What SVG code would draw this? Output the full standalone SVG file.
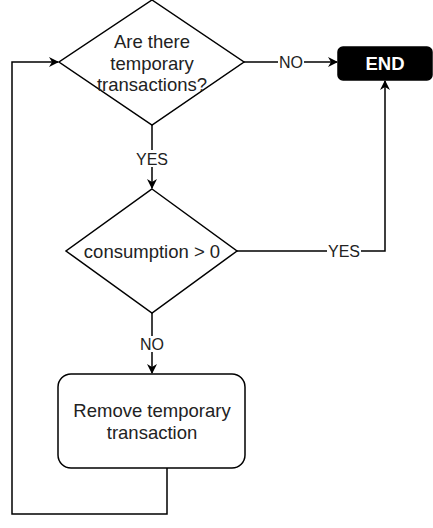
<svg xmlns="http://www.w3.org/2000/svg" width="433" height="528" viewBox="0 0 433 528">
<defs>
<marker id="arr" viewBox="0 0 10 10" refX="9" refY="5" markerWidth="10" markerHeight="10" markerUnits="userSpaceOnUse" orient="auto">
<path d="M0,0 L10,5 L0,10 L3,5 Z" fill="#000"/>
</marker>
<style>
.shape{fill:#fff;stroke:#000;stroke-width:1.5}
.edge{fill:none;stroke:#000;stroke-width:1.5;marker-end:url(#arr)}
.t{font-family:"Liberation Sans",Arial,sans-serif;font-size:18.5px;fill:#222;text-anchor:middle}
.lbl{font-family:"Liberation Sans",Arial,sans-serif;font-size:16px;fill:#222;text-anchor:middle}
.bg{fill:#fff}
</style>
</defs>
<rect width="433" height="528" fill="#fff"/>
<g id="connectors">
<path class="edge" d="M244,62 L337,62"/>
<rect class="bg" x="278" y="54" width="26" height="16"/>
<text class="lbl" x="291" y="68">NO</text>
<path class="edge" d="M152,125 L152,188"/>
<rect class="bg" x="135" y="150" width="34" height="17"/>
<text class="lbl" x="152" y="165">YES</text>
<path class="edge" d="M237,251 L385,251 L385,81"/>
<rect class="bg" x="327" y="243" width="34" height="17"/>
<text class="lbl" x="344" y="257">YES</text>
<path class="edge" d="M152,313 L152,373"/>
<rect class="bg" x="139" y="336" width="26" height="16"/>
<text class="lbl" x="152" y="350">NO</text>
<path class="edge" d="M167,468 L167,514 L12,514 L12,62 L58,62"/>
</g>
<g id="decision1">
<path class="shape" d="M152,0 L244,62 L152,125 L59,62 Z"/>
<text class="t" x="152" y="48">Are there</text>
<text class="t" x="152" y="70">temporary</text>
<text class="t" x="152" y="91">transactions?</text>
</g>
<g id="end">
<rect x="338" y="47" width="94" height="33" rx="5" fill="#000" stroke="#000" stroke-width="1.5"/>
<text class="t" x="385" y="70" style="fill:#fff;font-weight:bold">END</text>
</g>
<g id="decision2">
<path class="shape" d="M152,189 L237,251 L152,313 L66,251 Z"/>
<text class="t" x="152" y="258">consumption &gt; 0</text>
</g>
<g id="remove">
<rect class="shape" x="58" y="374" width="187" height="94" rx="13"/>
<text class="t" x="152" y="417">Remove temporary</text>
<text class="t" x="152" y="439">transaction</text>
</g>
</svg>
